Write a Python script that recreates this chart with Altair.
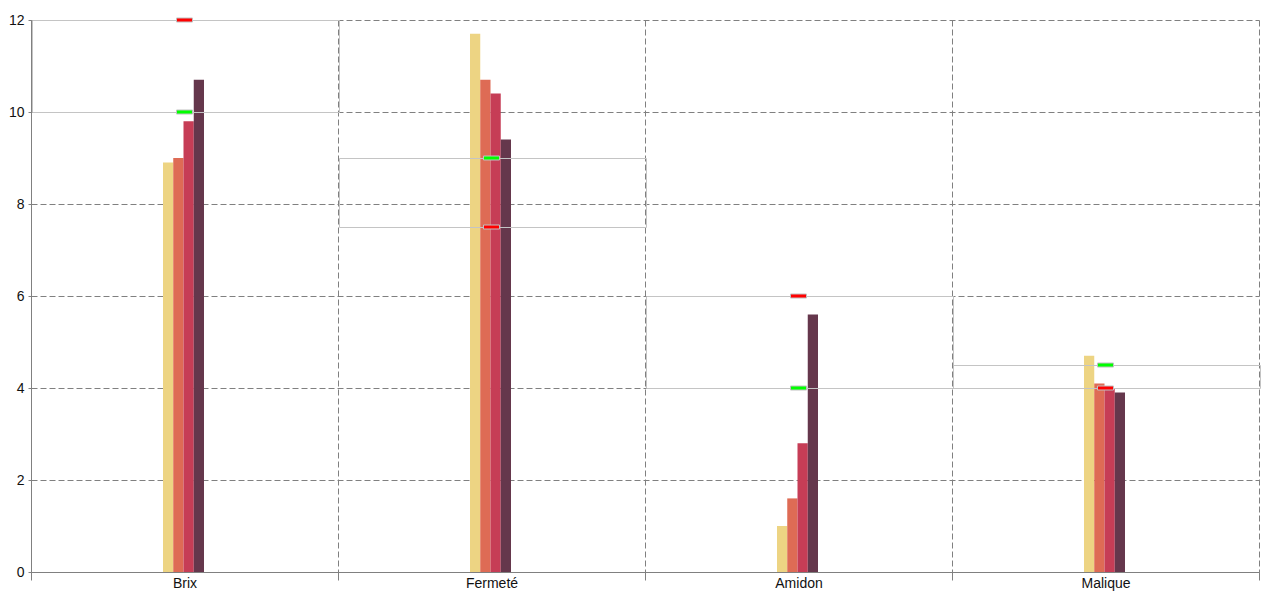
import altair as alt
import pandas as pd

categories = ["Brix", "Fermeté", "Amidon", "Malique"]
series_names = ["Série 1", "Série 2", "Série 3", "Série 4"]
serie_1 = [8.9, 11.7, 1.0, 4.7]
serie_2 = [9.0, 10.7, 1.6, 4.1]
serie_3 = [9.8, 10.4, 2.8, 4.0]
serie_4 = [10.7, 9.4, 5.6, 3.9]
series_colors = ["#EDD483", "#DE6B55", "#C63D56", "#65374C"]
green_marks = [10, 9, 4, 4.5]
red_marks = [12, 7.5, 6, 4]
y_ticks = [0, 2, 4, 6, 8, 10, 12]

rows = []
for name, vals in zip(series_names, [serie_1, serie_2, serie_3, serie_4]):
    for c, v in zip(categories, vals):
        rows.append({"cat": c, "serie": name, "val": v})
bars_df = pd.DataFrame(rows)

band_df = pd.DataFrame({
    "cat": categories,
    "lo": [min(g, r) for g, r in zip(green_marks, red_marks)],
    "hi": [max(g, r) for g, r in zip(green_marks, red_marks)],
})

mk_rows = []
for c, g, r in zip(categories, green_marks, red_marks):
    mk_rows.append({"cat": c, "type": "vert", "val": g})
    mk_rows.append({"cat": c, "type": "rouge", "val": r})
marks_df = pd.DataFrame(mk_rows)

GRID = "#808080"
x_enc = alt.X(
    "cat:N",
    sort=categories,
    scale=alt.Scale(domain=categories, paddingInner=0, paddingOuter=0),
    axis=alt.Axis(
        title=None, labelAngle=0, tickBand="extent", grid=True,
        gridDash=[6, 3], gridColor=GRID, gridWidth=1,
        tickSize=8, labelPadding=-3.5, domainColor=GRID, tickColor=GRID,
    ),
)
y_axis = alt.Axis(
    values=y_ticks, title=None, grid=True, gridDash=[6, 3], gridColor=GRID,
    gridWidth=1, tickSize=3, labelPadding=4, domainColor=GRID, tickColor=GRID,
)
y_scale = alt.Scale(domain=[0, 12], nice=False)

bars = alt.Chart(bars_df).mark_bar().encode(
    x=x_enc,
    xOffset=alt.XOffset("serie:N", sort=series_names,
                        scale=alt.Scale(paddingInner=0, paddingOuter=0, range=[132, 173])),
    y=alt.Y("val:Q", scale=y_scale, axis=y_axis),
    color=alt.Color("serie:N", scale=alt.Scale(domain=series_names, range=series_colors), legend=None),
)

bands = alt.Chart(band_df).mark_rect(
    fillOpacity=0, fill="white", stroke="#c4c4c4", strokeWidth=1,
    xOffset=1.5, x2Offset=-0.5, yOffset=0.5, y2Offset=0.5,
).encode(
    x=x_enc,
    y=alt.Y("lo:Q", scale=y_scale, axis=y_axis),
    y2="hi:Q",
)

markers = alt.Chart(marks_df).mark_point(
    shape="M-1,-0.25H1V0.25H-1Z", size=256, filled=True, opacity=1,
    stroke="#c0c0c0", strokeWidth=1, strokeOpacity=1, fillOpacity=1,
).encode(
    x=x_enc,
    y=alt.Y("val:Q", scale=y_scale, axis=y_axis),
    fill=alt.Fill("type:N", scale=alt.Scale(domain=["vert", "rouge"], range=["#00FF00", "#FF0000"]), legend=None),
)

chart = alt.layer(bars, bands, markers).properties(
    width=1228, height=552,
    padding={"left": 0, "top": 5, "right": 5, "bottom": 0},
    background="white",
).configure_axis(
    labelFont="Liberation Sans", labelFontSize=14, labelColor="#111111",
).configure_view(stroke="transparent")

chart.save("out.html", embed_options={"renderer": "svg", "actions": False})
